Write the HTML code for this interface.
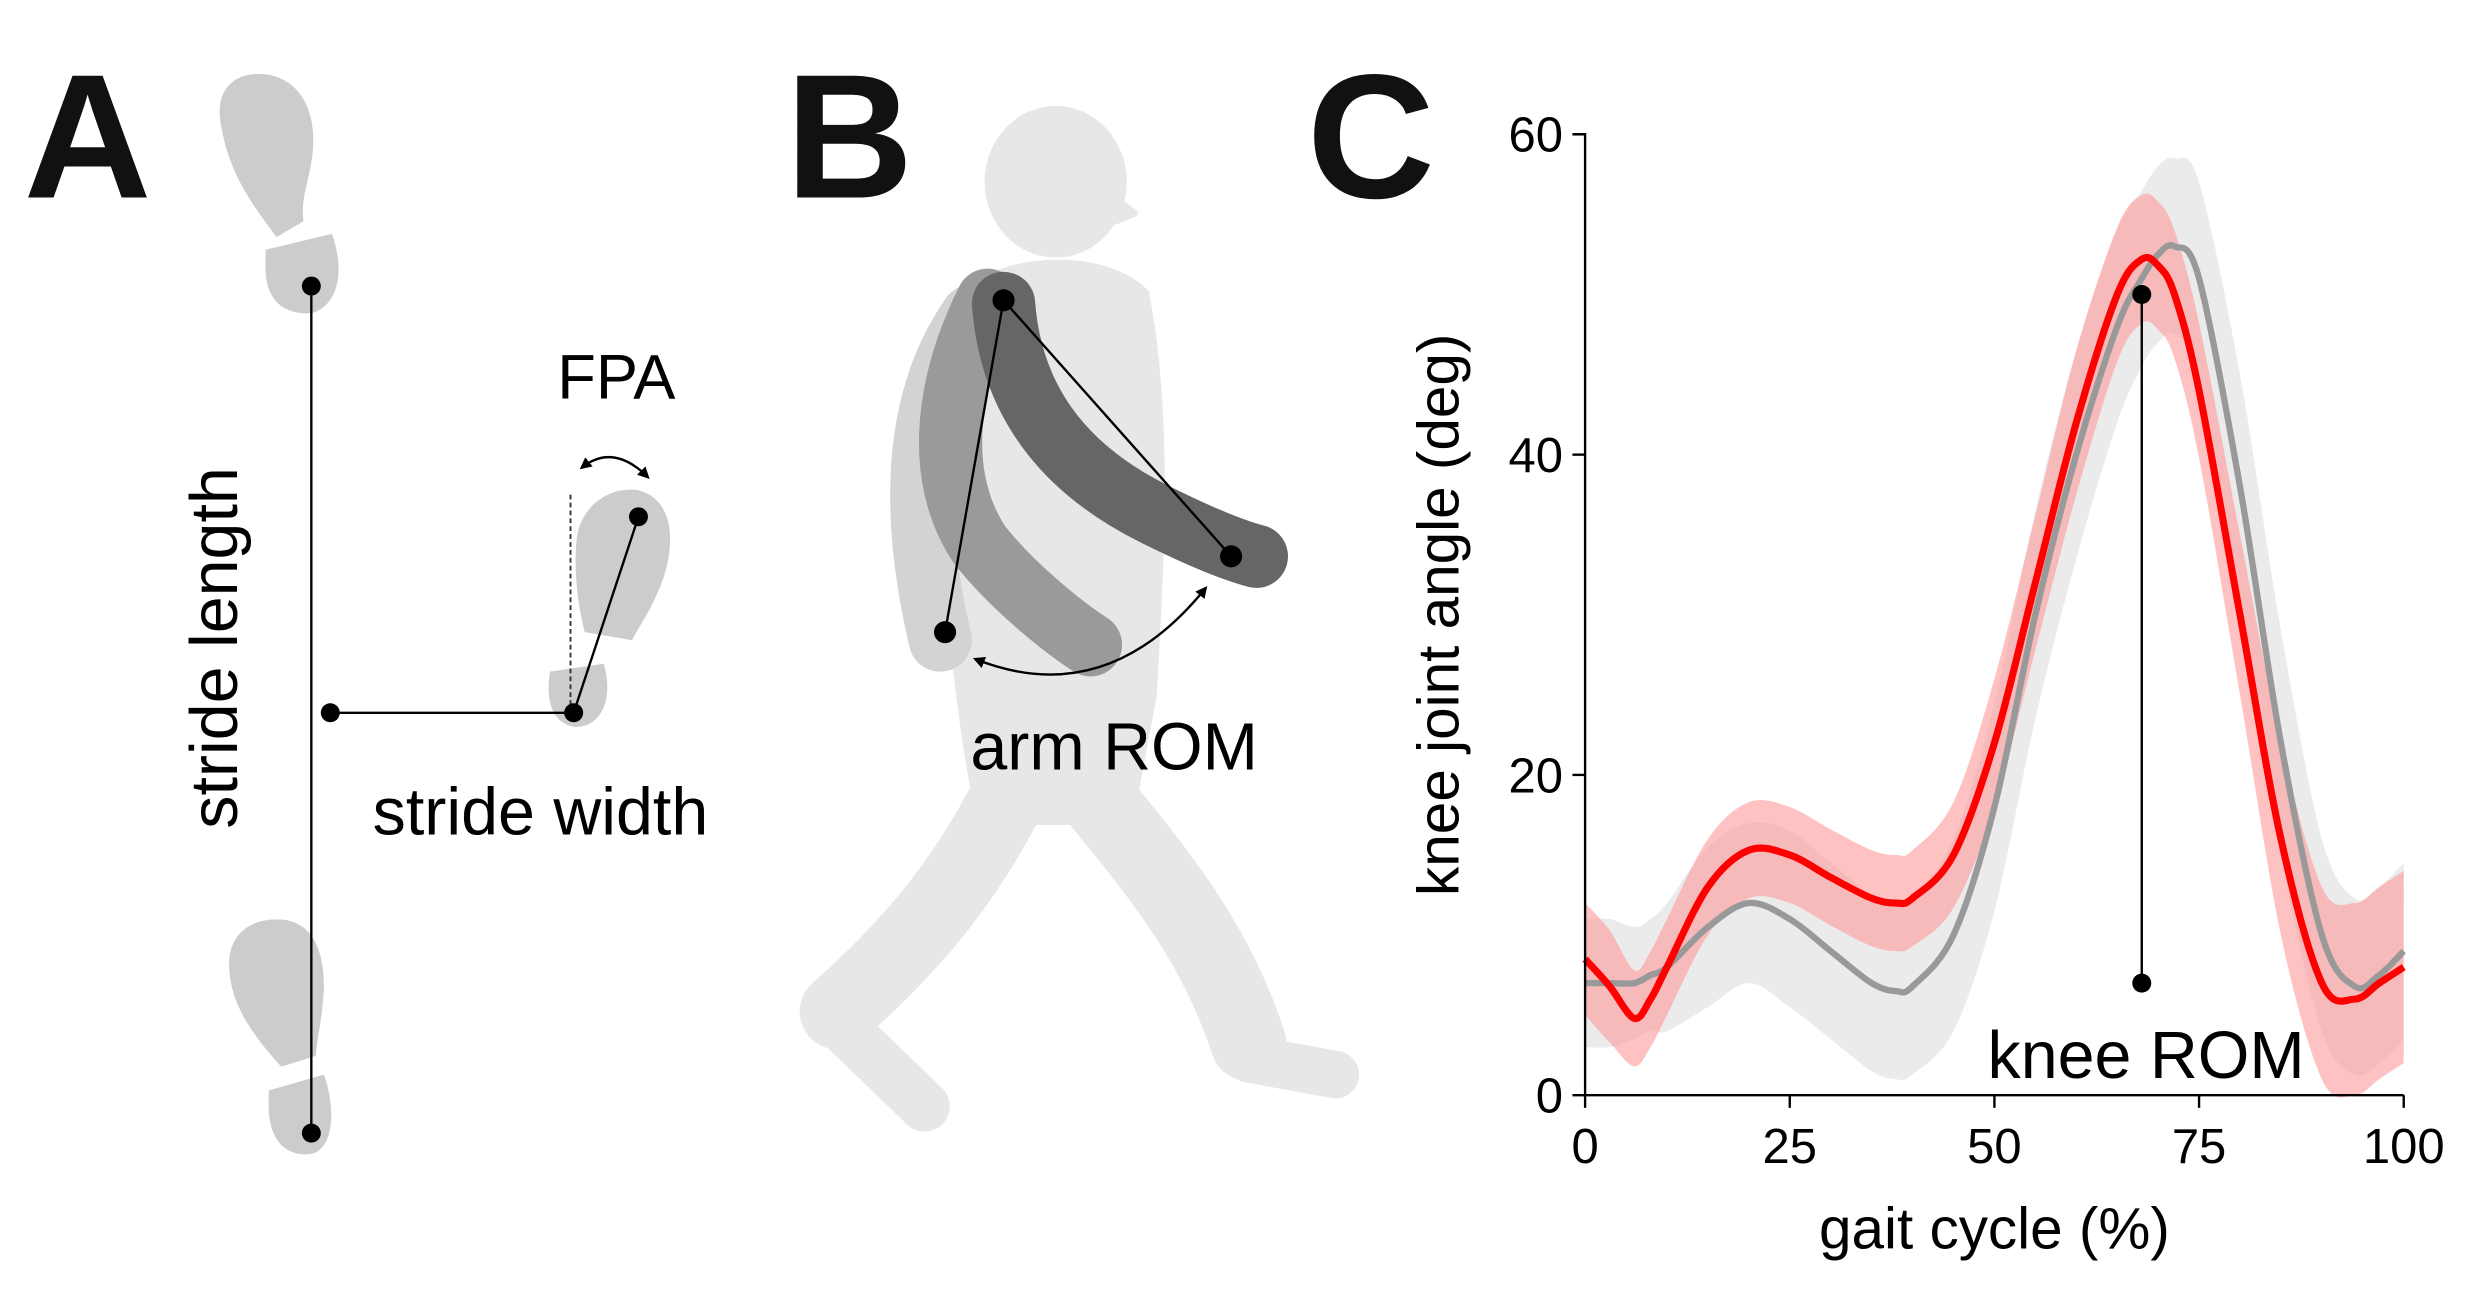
<!DOCTYPE html>
<html><head><meta charset="utf-8"><style>
html,body{margin:0;padding:0;background:#fff;}
svg{display:block;}
text{font-family:"Liberation Sans",Arial,sans-serif;}
</style></head><body>
<svg id="fig" width="2478" height="1307" viewBox="0 0 1568 827" xmlns="http://www.w3.org/2000/svg">
<defs>
<marker id="ah" viewBox="0 0 10 10" refX="8" refY="5" markerWidth="5" markerHeight="5" orient="auto-start-reverse"><path d="M0,0 L10,5 L0,10 z" fill="#000"/></marker>
</defs>
<!-- Panel A -->
<g>
<text x="15" y="125" font-size="112" font-weight="bold" fill="#111">A</text>
<g fill="#cccccc">
<path d="M140,80 C135,55 150,45 168,47 C190,50 200,70 198,95 C196,115 190,125 192,140 L175,150 C160,130 145,110 140,80 Z"/>
<path d="M168,158 L210,148 C218,170 215,192 198,198 C180,200 168,190 168,170 Z"/>
</g>
<g fill="#cccccc">
<path d="M145,610 C145,590 160,580 180,582 C200,585 205,605 205,625 C204,645 200,660 200,668 L178,675 C160,655 145,635 145,610 Z"/>
<path d="M170,690 L205,680 C212,700 212,725 198,730 C180,733 170,720 170,700 Z"/>
</g>
<g fill="#cccccc">
<path d="M365,340 C368,320 385,308 403,310 C425,315 428,340 420,365 C413,385 405,395 400,405 L370,400 C365,380 363,360 365,340 Z"/>
<path d="M348,425 L382,420 C388,440 382,460 364,460 C350,458 345,445 348,425 Z"/>
</g>
<line x1="197" y1="181" x2="197" y2="717" stroke="#000" stroke-width="1.5"/>
<line x1="209" y1="451" x2="363" y2="451" stroke="#000" stroke-width="1.5"/>
<line x1="363" y1="451" x2="404" y2="327" stroke="#000" stroke-width="1.5"/>
<line x1="361" y1="313" x2="361" y2="451" stroke="#333" stroke-width="1.2" stroke-dasharray="3,2"/>
<path d="M368,296 Q388,280 410,302" fill="none" stroke="#000" stroke-width="1.5" marker-start="url(#ah)" marker-end="url(#ah)"/>
<g fill="#000"><circle cx="197" cy="181" r="6"/><circle cx="197" cy="717" r="6"/><circle cx="209" cy="451" r="6"/><circle cx="363" cy="451" r="6"/><circle cx="404" cy="327" r="6"/></g>
<text x="390" y="252" font-size="40" text-anchor="middle">FPA</text>
<text x="342" y="528" font-size="42" text-anchor="middle">stride width</text>
<text transform="translate(150,410) rotate(-90)" font-size="42" text-anchor="middle">stride length</text>
</g>
<!-- Panel B -->
<g>
<text x="497" y="125" font-size="112" font-weight="bold" fill="#111">B</text>
<g fill="#e7e7e7" stroke="#e7e7e7" stroke-linecap="round" stroke-linejoin="round">
<ellipse cx="668" cy="115" rx="45" ry="48" stroke="none"/>
<path d="M705,125 L718,135 L706,140 Z" stroke-width="4"/>
<path d="M610,185 C640,160 700,160 725,185 C740,260 735,350 730,440 L715,520 L620,520 C600,420 590,300 610,185 Z" stroke-width="4"/>
<path d="M640,500 C610,560 575,600 530,640" fill="none" stroke-width="48"/>
<path d="M528,645 L585,700" fill="none" stroke-width="32"/>
<path d="M690,500 C740,560 770,600 790,660" fill="none" stroke-width="48"/>
<path d="M790,670 L845,680" fill="none" stroke-width="30"/>
<path d="M615,200 C580,250 575,320 595,405" fill="none" stroke="#d3d3d3" stroke-width="40"/>
</g>
<path d="M625,190 C600,240 590,300 620,345 C640,370 670,395 690,408" fill="none" stroke="#9a9a9a" stroke-width="40" stroke-linecap="round"/>
<path d="M635,192 C640,260 680,300 730,325 C760,340 780,348 795,352" fill="none" stroke="#666" stroke-width="40" stroke-linecap="round"/>
<line x1="635" y1="190" x2="598" y2="400" stroke="#000" stroke-width="1.5"/>
<line x1="635" y1="190" x2="779" y2="352" stroke="#000" stroke-width="1.5"/>
<g fill="#000"><circle cx="635" cy="190" r="7"/><circle cx="779" cy="352" r="7"/><circle cx="598" cy="400" r="7"/></g>
<path d="M617,417 Q700,450 763,372" fill="none" stroke="#000" stroke-width="1.5" marker-start="url(#ah)" marker-end="url(#ah)"/>
<text x="705" y="487" font-size="42" text-anchor="middle">arm ROM</text>
</g>
<!-- Panel C -->
<g>
<text x="827" y="125" font-size="112" font-weight="bold" fill="#111">C</text>
<g id="chart"></g>
</g>
</svg>
<script>
const xs = [0,3,6,8,10,15,20,25,30,35,38,40,45,50,55,60,65,68,70,72,75,80,85,90,94,97,100];
const redMean = [8.5,6.8,4.8,6,8,13,15.3,15,13.6,12.3,12,12.3,15,22,32,42,50,52.2,51.8,50,44,30,16,7,6,7,8];
const redSd = [3.5,3.5,3,3,3,3,3,3,3,3,3,3,3.3,4,4.2,4.5,4.2,4,4,4,4.2,5,6,6,6,6,6];
const grayMean = [7,7,7,7.5,8,10.5,12,11,9,7,6.5,6.8,10,18,30,40,48,51,52.5,53,51,38,22,10,6.8,7.5,9];
const graySd = [4,4,3.5,3.5,4,5,5,5.5,5.5,5.5,5.5,5.5,6,6.5,6.5,6.5,6,5.5,5.5,5.5,6,7,7,6,5.5,5.5,5.5];
const xTicks = [0,25,50,75,100];
const yTicks = [0,20,40,60];
const romTop = 50, romBottom = 7, romX = 68;

const X = v => 1003 + v*(1521-1003)/100;
const Y = v => 693 - v*(693-85)/60;
const NS = 'http://www.w3.org/2000/svg';
const g = document.getElementById('chart');
function mk(tag, attrs){const e=document.createElementNS(NS,tag);for(const k in attrs)e.setAttribute(k,attrs[k]);g.appendChild(e);return e;}
function smooth(pts){let d='M'+pts[0][0]+','+pts[0][1];for(let i=0;i<pts.length-1;i++){const p0=pts[Math.max(0,i-1)],p1=pts[i],p2=pts[i+1],p3=pts[Math.min(pts.length-1,i+2)];const c1=[p1[0]+(p2[0]-p0[0])/6,p1[1]+(p2[1]-p0[1])/6];const c2=[p2[0]-(p3[0]-p1[0])/6,p2[1]-(p3[1]-p1[1])/6];d+=' C'+c1+' '+c2+' '+p2;}return d;}
function band(m,s){const up=xs.map((x,i)=>[X(x),Y(m[i]+s[i])]);const lo=xs.map((x,i)=>[X(x),Y(Math.max(0,m[i]-s[i]))]).reverse();return smooth(up)+' L'+lo[0]+smooth(lo).slice(1).replace(/^[^C]*/,' ')+' Z';}
let e;
e=mk('path',{d:band(grayMean,graySd),fill:'#ebebeb'});


e=mk('path',{d:band(redMean,redSd),fill:'#ff9a9a','fill-opacity':'0.6'});


e=mk('path',{d:smooth(xs.map((x,i)=>[X(x),Y(grayMean[i])])),fill:'none',stroke:'#999','stroke-width':4});


e=mk('path',{d:smooth(xs.map((x,i)=>[X(x),Y(redMean[i])])),fill:'none',stroke:'#ff0000','stroke-width':4.5});


e=mk('path',{d:`M${X(0)-8},${Y(60)} H${X(0)} V${Y(0)} H${X(100)}`,fill:'none',stroke:'#000','stroke-width':1.5});


yTicks.forEach(t=>{mk('line',{x1:X(0)-8,x2:X(0),y1:Y(t),y2:Y(t),stroke:'#000','stroke-width':1.5});
 e=mk('text',{x:X(0)-14,y:Y(t)+11,'font-size':31,'text-anchor':'end'});e.textContent=t;
 
 });
xTicks.forEach(t=>{mk('line',{x1:X(t),x2:X(t),y1:Y(0),y2:Y(0)+8,stroke:'#000','stroke-width':1.5});
 e=mk('text',{x:X(t),y:Y(0)+43,'font-size':31,'text-anchor':'middle'});e.textContent=t;
 
 });
e=mk('text',{x:X(50),y:790,'font-size':37,'text-anchor':'middle'});e.textContent='gait cycle (%)';


e=mk('text',{transform:`translate(923,${Y(30)}) rotate(-90)`,'font-size':37,'text-anchor':'middle'});e.textContent='knee joint angle (deg)';


e=mk('line',{x1:X(romX),x2:X(romX),y1:Y(romTop),y2:Y(romBottom),stroke:'#000','stroke-width':1.5});


mk('circle',{cx:X(romX),cy:Y(romTop),r:6});
mk('circle',{cx:X(romX),cy:Y(romBottom),r:6});
e=mk('text',{x:1358,y:682,'font-size':42,'text-anchor':'middle'});e.textContent='knee ROM';


</script>
</body></html>
